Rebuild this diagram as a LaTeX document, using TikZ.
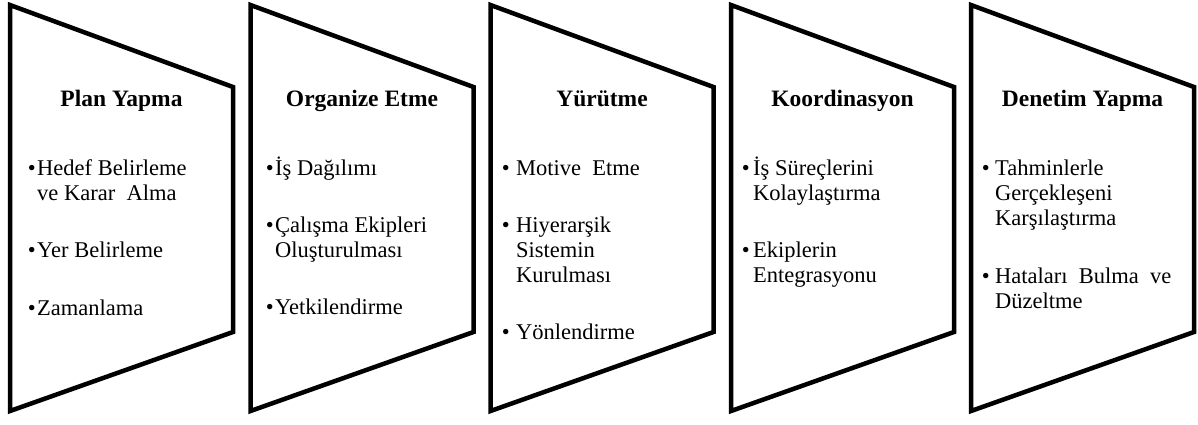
\documentclass[tikz,border=0pt]{standalone}
\usepackage{fontspec}
\setmainfont{Liberation Serif}
% multi-line list entry, baseline on its first line
\newcommand\itemlines[1]{\begin{tabular}[t]{@{}l@{}}#1\end{tabular}}
\begin{document}
\begin{tikzpicture}[x=1pt,y=-1pt,
  panel/.style={draw=black,line width=4.5pt,line join=miter},
  heading/.style={font=\bfseries\fontsize{23.5}{27}\selectfont,inner sep=0pt,anchor=base},
  dot/.style={font=\fontsize{22.5}{25}\selectfont,inner sep=0pt,anchor=base east},
  entry/.style={font=\fontsize{22.5}{25}\selectfont,inner sep=0pt,anchor=base west},
]
\useasboundingbox (0,0) rectangle (1198,424);

% five process panels
\foreach \L/\n in {10/p1,250.5/p2,490.5/p3,731/p4,971/p5}
  \draw[panel] (\L,5) coordinate (\n-tl) -- (\L+223,87) -- (\L+223,332) -- (\L,411) -- cycle;

% headings
\node[heading] (h1) at (121.5,106) {Plan Yapma};
\node[heading] (h2) at (362,106) {Organize Etme};
\node[heading] (h3) at (602,106) {Yürütme};
\node[heading] (h4) at (842.5,106) {Koordinasyon};
\node[heading] (h5) at (1082.5,106) {Denetim Yapma};

% panel 1
\node[dot] (b11) at (36,175) {•};
\node[entry] (e11) at (37,175) {\itemlines{Hedef Belirleme\\ve Karar\ \ Alma}};
\node[dot] (b12) at (36,257) {•};
\node[entry] (e12) at (37,257) {Yer Belirleme};
\node[dot] (b13) at (36,315) {•};
\node[entry] (e13) at (37,315) {Zamanlama};

% panel 2
\node[dot] (b21) at (274,175) {•};
\node[entry] (e21) at (275,175) {İş Dağılımı};
\node[dot] (b22) at (274,232) {•};
\node[entry] (e22) at (275,232) {\itemlines{Çalışma Ekipleri\\Oluşturulması}};
\node[dot] (b23) at (274,314) {•};
\node[entry] (e23) at (275,314) {Yetkilendirme};

% panel 3
\node[dot] (b31) at (510,175) {•};
\node[entry] (e31) at (516,175) {Motive\ \ Etme};
\node[dot] (b32) at (510,232) {•};
\node[entry] (e32) at (516,232) {\itemlines{Hiyerarşik\\Sistemin\\Kurulması}};
\node[dot] (b33) at (510,339) {•};
\node[entry] (e33) at (516,339) {Yönlendirme};

% panel 4
\node[dot] (b41) at (750,175) {•};
\node[entry] (e41) at (753,175) {\itemlines{İş Süreçlerini\\Kolaylaştırma}};
\node[dot] (b42) at (750,257) {•};
\node[entry] (e42) at (753,257) {\itemlines{Ekiplerin\\Entegrasyonu}};

% panel 5
\node[dot] (b51) at (990,175) {•};
\node[entry] (e51) at (995,175) {\itemlines{Tahminlerle\\Gerçekleşeni\\Karşılaştırma}};
\node[dot] (b52) at (990,283) {•};
\node[entry] (e52) at (995,283) {\itemlines{Hataları\ \ Bulma\ \ ve\\Düzeltme}};
\end{tikzpicture}
\end{document}
